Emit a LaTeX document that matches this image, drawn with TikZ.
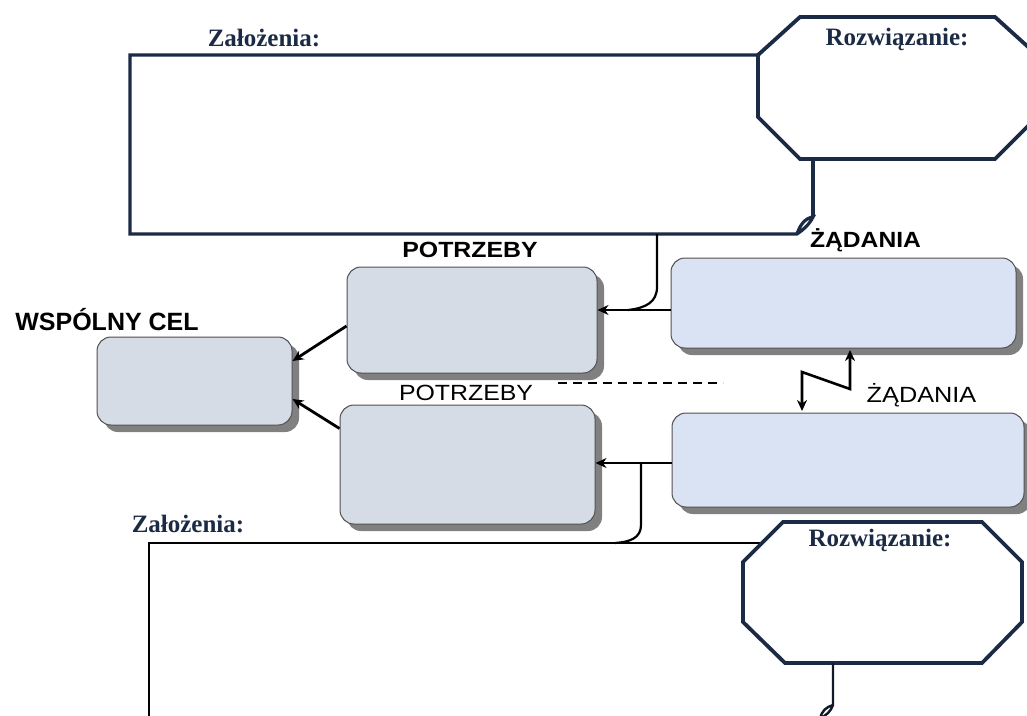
\documentclass[tikz,border=0pt]{standalone}
\usepackage{fontspec}
\newfontfamily\arialf{Liberation Sans}
\newfontfamily\tnrf{Liberation Serif}
\usetikzlibrary{shadows,arrows.meta}
\definecolor{navy}{HTML}{1C2B45}
\definecolor{potfill}{HTML}{D6DCE6}
\definecolor{zadfill}{HTML}{DAE3F3}
\definecolor{boxline}{HTML}{505050}
\definecolor{shadowgray}{HTML}{808080}
\newcommand\wideT[2][1.12]{\scalebox{#1}[1]{#2}}
\tikzset{
  rbox/.style={draw=boxline, line width=1pt, rounded corners=14pt, inner sep=0pt,
    drop shadow={shadow xshift=7pt, shadow yshift=-7pt, fill=shadowgray, opacity=1}},
  potbox/.style={rbox, fill=potfill},
  zadbox/.style={rbox, fill=zadfill},
  frame/.style={draw=navy, line width=3.2pt, line join=miter},
  octo/.style={draw=navy, line width=3.8pt, line join=miter, fill=white},
  conn/.style={draw=black, line width=2.2pt},
  arr/.style={draw=black, line width=2.8pt, -{Stealth[length=11pt,width=10pt]}},
  dblarr/.style={draw=black, line width=2.6pt, {Stealth[length=11pt,width=10pt]}-{Stealth[length=11pt,width=10pt]}},
  sertext/.style={text=navy, font=\tnrf\bfseries\fontsize{25}{28}\selectfont, anchor=base, inner sep=0pt},
  sanstext/.style={text=black, font=\arialf\fontsize{22}{26}\selectfont, anchor=base, inner sep=0pt},
  sansbold/.style={sanstext, font=\arialf\bfseries\fontsize{22}{26}\selectfont},
}
\begin{document}
\begin{tikzpicture}[x=1pt,y=-1pt]
\useasboundingbox (0,0) rectangle (1027,715);
\fill[white] (0,0) rectangle (1027,715);

% ---- top frame (Założenia) and octagon (Rozwiązanie)
\coordinate (tj) at (657,234);
\draw[frame] (758,55) -- (130,55) -- (130,234) -- (797,234)
  .. controls (803,230) and (809,225) .. (813,217)
  .. controls (805,218) and (800,225) .. (797,234);
\draw[frame] (813,217) -- (813,159);
\draw[octo] (800,17) -- (995,17) -- (1037,55) -- (1037,117) -- (995,159) -- (800,159) -- (758,117) -- (758,55) -- cycle;
\node[sertext] (zal1) at (264,46) {Założenia:};
\node[sertext] (roz1) at (897,45) {Rozwiązanie:};

% ---- bottom frame and octagon
\coordinate (bj) at (615,543);
\draw[frame, draw=black, line width=2.5pt] (764,543) -- (149,543) -- (149,725);
\draw[octo] (783,522) -- (982,522) -- (1022,562) -- (1022,622) -- (982,663) -- (785,663) -- (743,622) -- (743,562) -- cycle;
\draw[conn, line width=2.4pt, draw=navy!60!black] (833,663) -- (833,705)
  .. controls (826,707) and (822,711) .. (820,718)
  .. controls (826,716) and (831,711) .. (833,705);
\node[sertext] (zal2) at (188,532) {Założenia:};
\node[sertext] (roz2) at (880,546) {Rozwiązanie:};

% ---- boxes
\node[potbox, minimum width=195pt, minimum height=88pt] (cel) at (194.5,381) {};
\node[potbox, minimum width=250pt, minimum height=106pt] (pot1) at (472,320) {};
\node[potbox, minimum width=255pt, minimum height=119pt] (pot2) at (467.5,464.5) {};
\node[zadbox, minimum width=345pt, minimum height=90pt] (zad1) at (843.5,303) {};
\node[zadbox, minimum width=352pt, minimum height=94pt] (zad2) at (848,460) {};

% ---- labels
\node[sansbold, font=\arialf\bfseries\fontsize{25}{28}\selectfont] (lcel) at (107,330) {WSPÓLNY CEL};
\node[sansbold] (lpot1) at (470,257) {\wideT[1.13]{POTRZEBY}};
\node[sanstext] (lpot2) at (466,400) {\wideT[1.13]{POTRZEBY}};
\node[sansbold] (lzad1) at (865.5,247) {\wideT{ŻĄDANIA}};
\node[sanstext] (lzad2) at (921.5,402) {\wideT[1.15]{ŻĄDANIA}};

% ---- connectors
\coordinate (a1) at (zad1.west |- 0,310);
\coordinate (a1e) at (pot1.east |- 0,310);
\draw[arr] (a1) -- (a1e);
\draw[conn] (tj) -- (657,287) .. controls (657,302) and (646,308) .. (628,310);

\coordinate (a2) at (zad2.west |- 0,463);
\coordinate (a2e) at (pot2.east |- 0,463);
\draw[arr] (a2) -- (a2e);
\draw[conn] (641,463) -- (641,525) .. controls (641,538) and (630,542) .. (bj);

\draw[arr] ([yshift=-6pt]pot1.west) -- ([yshift=20pt]cel.east);
\draw[arr] ([yshift=36pt]pot2.west) -- ([yshift=-18pt]cel.east);

\coordinate (z1) at (802,411);
\coordinate (z4) at (850,350);
\draw[dblarr] (z1) -- (802,372) -- (850,389) -- (z4);

\draw[black, line width=2pt, dash pattern=on 9pt off 6pt] (558,383) -- (723,383);
\end{tikzpicture}
\end{document}
